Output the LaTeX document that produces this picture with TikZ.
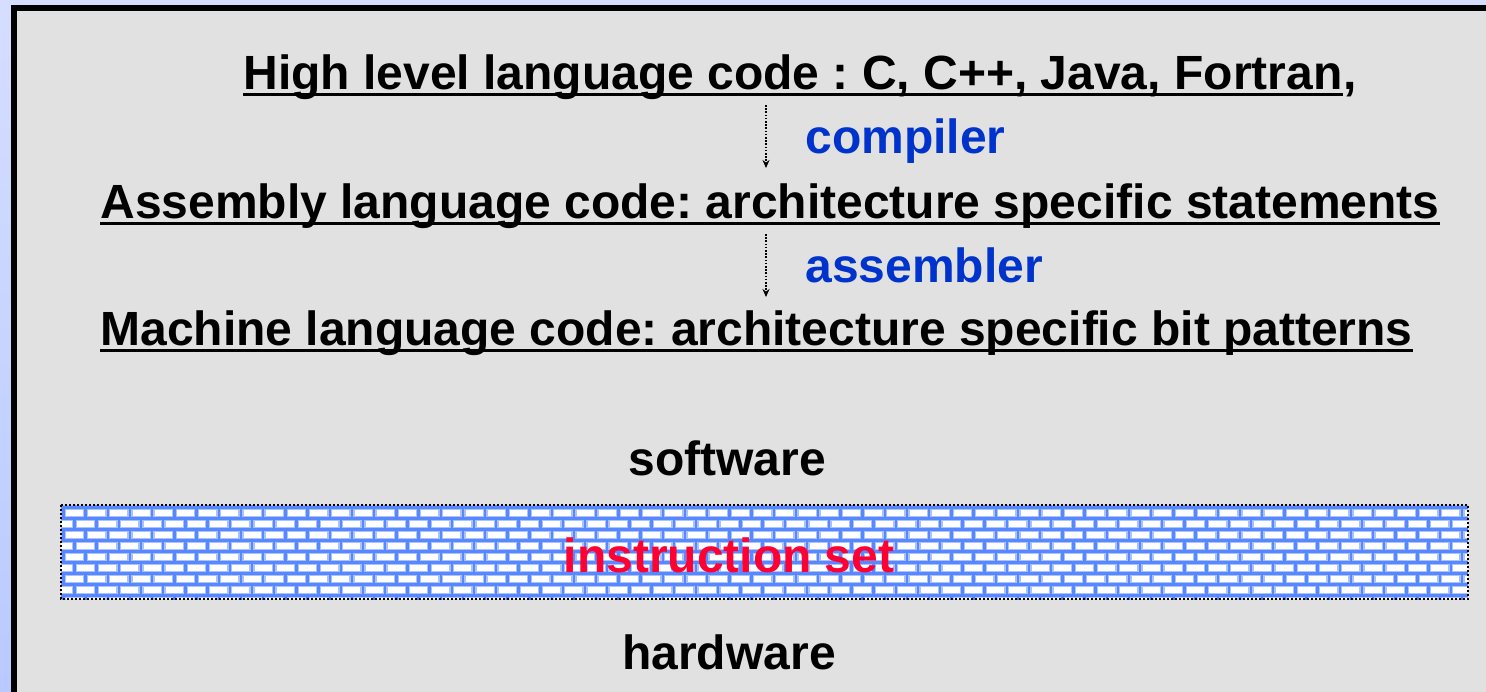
\documentclass[tikz,border=0pt]{standalone}
\usepackage{fontspec}
\setmainfont{Liberation Sans}
\usetikzlibrary{arrows.meta}
\definecolor{bgtop}{RGB}{214,222,255}
\definecolor{bgbot}{RGB}{184,202,255}
\definecolor{panel}{RGB}{225,225,225}
\definecolor{tblue}{RGB}{0,51,204}
\definecolor{tred}{RGB}{255,0,51}
\definecolor{mortarc}{RGB}{88,136,255}
\definecolor{haloc}{RGB}{170,194,255}
\tikzset{
  txt/.style={inner sep=0pt, font=\bfseries\fontsize{24}{28}\selectfont},
  uline/.style={line width=1.5pt, black},
  halo/.style={line width=2.6pt, haloc},
  mortar/.style={line width=1.2pt, mortarc},
  flow/.style={line width=0.8pt, dash pattern=on 0.8pt off 0.8pt, -{Stealth[length=4pt,width=3.5pt]}},
}
\newcommand\mybricks[1]{%
  \foreach \r in {-1,...,8}{%
    \draw[#1] (61,{507.5+11*\r}) -- (1468,{507.5+11*\r});
    \foreach \k in {-1,...,64}{%
      \draw[#1] ({63.3+22.2*\k+11.1*mod(\r+2,2)},{507.5+11*\r}) -- ++(0,11);
    }%
  }%
}
\begin{document}
\frenchspacing
\begin{tikzpicture}[x=0.5pt,y=-0.5pt]
\useasboundingbox (0,0) rectangle (1486,691);
\shade[top color=bgtop, bottom color=bgbot] (0,0) rectangle (1486,691);
\begin{scope}
  \clip (0,0) rectangle (1486,691);
  \draw[line width=3pt, fill=panel] (14,8) rectangle (1520,720);
\end{scope}
% brick band
\fill[white] (61,505) rectangle (1468,599);
\begin{scope}
  \clip (61,505) rectangle (1468,599);
  \mybricks{halo}
  \mybricks{mortar}
\end{scope}
\draw[line width=1pt, dash pattern=on 1pt off 1pt] (61,505) rectangle (1468,599);
% texts
\node[txt, anchor=base west] (hl) at (243,89) {High level language code : C, C++, Java, Fortran};
\node[txt, anchor=base west] (hlc) at (hl.base east) {,};
\draw[uline] ([yshift=-2.8pt]hl.base west) -- ([yshift=-2.8pt]hl.base east);
\node[txt, anchor=base west, tblue] (comp) at (805,153) {compiler};
\node[txt, anchor=base west] (asm) at (100,218) {Assembly language code: architecture specific statements};
\draw[uline] ([yshift=-2.8pt]asm.base west) -- ([yshift=-2.8pt]asm.base east);
\node[txt, anchor=base west, tblue] (assm) at (805,282) {assembler};
\node[txt, anchor=base west] (mach) at (100,345) {Machine language code: architecture specific bit patterns};
\draw[uline] ([yshift=-2.8pt]mach.base west) -- ([yshift=-2.8pt]mach.base east);
\node[txt, anchor=base] (sw) at (727,475) {software};
\node[txt, anchor=base, tred] (is) at (729,572) {instruction set};
\node[txt, anchor=base] (hw) at (729,669) {hardware};
% arrows
\coordinate (a1s) at (766,105);
\coordinate (a1e) at (766,168);
\coordinate (a2s) at (766,234);
\coordinate (a2e) at (766,297);
\draw[flow] (a1s) -- (a1e);
\draw[flow] (a2s) -- (a2e);
\end{tikzpicture}
\end{document}
